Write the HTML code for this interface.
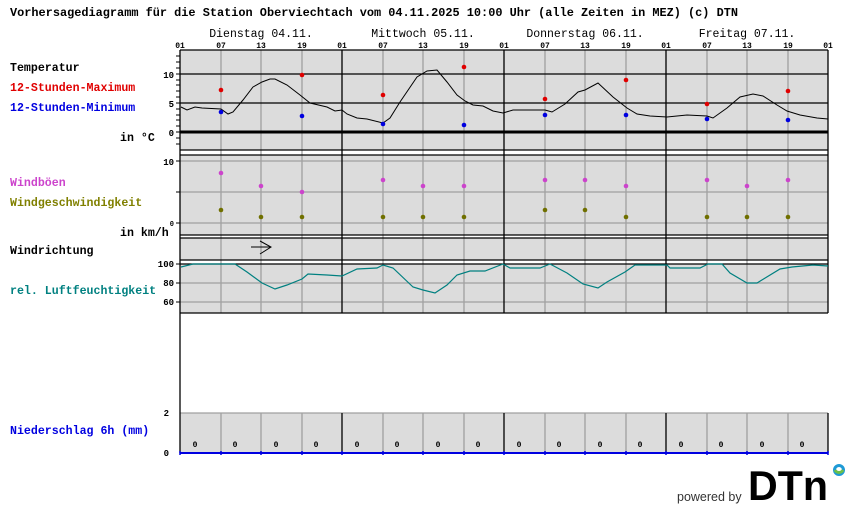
<!DOCTYPE html>
<html><head><meta charset="utf-8"><style>
html,body{margin:0;padding:0;background:#fff;}
svg{display:block;}
text{font-family:"Liberation Mono",monospace;}
.b{font-weight:bold;font-size:11.6px;}
.t{font-size:8px;font-weight:bold;}
</style></head><body>
<svg width="850" height="524" viewBox="0 0 850 524" xmlns="http://www.w3.org/2000/svg">
<text x="10" y="16" class="b" textLength="728" lengthAdjust="spacingAndGlyphs">Vorhersagediagramm für die Station Oberviechtach vom 04.11.2025 10:00 Uhr (alle Zeiten in MEZ)   (c) DTN</text>
<g font-size="11.5" text-anchor="middle">
<text x="261" y="37">Dienstag 04.11.</text>
<text x="423" y="37">Mittwoch 05.11.</text>
<text x="585" y="37">Donnerstag 06.11.</text>
<text x="747" y="37">Freitag 07.11.</text>
</g>
<g class="t" text-anchor="middle">
<text x="180" y="48">01</text><text x="221" y="48">07</text><text x="261" y="48">13</text><text x="302" y="48">19</text>
<text x="342" y="48">01</text><text x="383" y="48">07</text><text x="423" y="48">13</text><text x="464" y="48">19</text>
<text x="504" y="48">01</text><text x="545" y="48">07</text><text x="585" y="48">13</text><text x="626" y="48">19</text>
<text x="666" y="48">01</text><text x="707" y="48">07</text><text x="747" y="48">13</text><text x="788" y="48">19</text>
<text x="828" y="48">01</text>
</g>
<rect x="180" y="50" width="648" height="100" fill="#dcdcdc"/>
<rect x="180" y="155" width="648" height="80" fill="#dcdcdc"/>
<rect x="180" y="238" width="648" height="22" fill="#dcdcdc"/>
<rect x="180" y="264" width="648" height="49" fill="#dcdcdc"/>
<rect x="180" y="413" width="648" height="40" fill="#dcdcdc"/>
<g stroke="#a0a0a0" stroke-width="1.3">
<line x1="180" y1="161" x2="828" y2="161"/><line x1="180" y1="192" x2="828" y2="192"/><line x1="180" y1="223" x2="828" y2="223"/>
<line x1="180" y1="283" x2="828" y2="283"/><line x1="180" y1="302" x2="828" y2="302"/>
<line x1="180" y1="413" x2="828" y2="413"/>
</g>
<g stroke="#a0a0a0" stroke-width="1.3">
<path d="M221 50V313M261 50V313M302 50V313M383 50V313M423 50V313M464 50V313M545 50V313M585 50V313M626 50V313M707 50V313M747 50V313M788 50V313"/>
<path d="M221 413V453M261 413V453M302 413V453M383 413V453M423 413V453M464 413V453M545 413V453M585 413V453M626 413V453M707 413V453M747 413V453M788 413V453"/>
</g>
<g stroke="#000" stroke-width="1.3">
<line x1="180" y1="50" x2="828" y2="50"/>
<line x1="180" y1="74" x2="828" y2="74"/>
<line x1="180" y1="103" x2="828" y2="103"/>
<line x1="180" y1="150" x2="828" y2="150"/>
<line x1="180" y1="155" x2="828" y2="155"/>
<line x1="180" y1="235" x2="828" y2="235"/>
<line x1="180" y1="238" x2="828" y2="238"/>
<line x1="180" y1="260" x2="828" y2="260"/>
<line x1="180" y1="264" x2="828" y2="264"/>
<line x1="180" y1="313" x2="828" y2="313"/>
<path d="M180 50V453M342 50V313M504 50V313M666 50V313M828 50V313M342 413V453M504 413V453M666 413V453M828 413V453"/>
</g>
<line x1="180" y1="132" x2="828" y2="132" stroke="#000" stroke-width="3"/>
<line x1="180" y1="453" x2="828" y2="453" stroke="#0000e0" stroke-width="2"/>
<path d="M180 455V451M221 455V451M261 455V451M302 455V451M342 455V451M383 455V451M423 455V451M464 455V451M504 455V451M545 455V451M585 455V451M626 455V451M666 455V451M707 455V451M747 455V451M788 455V451M828 455V451" stroke="#0000e0" stroke-width="1.5"/>
<path d="M176 56H180M176 62H180M176 68H180M176 74H180M176 80H180M176 85H180M176 91H180M176 97H180M176 103H180M176 109H180M176 115H180M176 120H180M176 126H180M176 132H180M176 138H180M176 144H180M176 161H180M176 192H180M176 223H180M176 264H180M176 283H180M176 302H180" stroke="#000"/>
<g font-size="9" font-weight="bold" text-anchor="end">
<text x="174" y="78">10</text><text x="174" y="107">5</text><text x="174" y="136">0</text>
<text x="174" y="165">10</text><text x="174" y="226" font-size="7">0</text>
<text x="174" y="267">100</text><text x="174" y="286">80</text><text x="174" y="305">60</text>
<text x="169" y="416">2</text><text x="169" y="456">0</text>
</g>
<text x="10" y="71" class="b">Temperatur</text>
<text x="10" y="91" class="b" fill="#e00000">12-Stunden-Maximum</text>
<text x="10" y="111" class="b" fill="#0000e0">12-Stunden-Minimum</text>
<text x="120" y="141" class="b">in °C</text>
<text x="10" y="186" class="b" fill="#cc44cc">Windböen</text>
<text x="10" y="206" class="b" fill="#808000">Windgeschwindigkeit</text>
<text x="120" y="236" class="b">in km/h</text>
<text x="10" y="254" class="b">Windrichtung</text>
<text x="10" y="294" class="b" fill="#008080">rel. Luftfeuchtigkeit</text>
<text x="10" y="434" class="b" fill="#0000e0">Niederschlag 6h (mm)</text>
<polyline fill="none" stroke="#000" stroke-width="1" points="181,107 187,110 195,107 202,108 221,109 228,114 233,112 243,100 253,87 262,82 270,79 275,79 287,85 300,95 310,103 327,107 335,111 342,110 347,114 357,118 367,119 383,123 390,118 400,102 417,77 427,71 437,70 447,82 457,95 465,101 473,105 483,106 493,111 503,113 513,110 545,110 552,112 565,104 578,92 585,90 598,83 613,97 627,108 637,114 650,116 667,117 687,115 707,116 713,118 727,108 740,97 753,94 763,96 777,105 787,111 800,115 817,118 828,119"/>
<polyline fill="none" stroke="#008080" stroke-width="1.2" points="181,267 193,264 220,264 235,264 247,272 262,283 275,289 287,285 302,279 308,274 327,275 342,276 357,269 377,268 383,265 393,268 413,287 423,290 435,293 447,285 457,275 470,271 485,271 503,264 510,268 520,268 540,268 550,264 567,273 583,284 598,288 607,282 625,272 635,265 667,265 670,268 700,268 708,264 722,264 730,273 747,283 757,283 780,269 792,267 813,265 828,266"/>
<g fill="#e00000">
<circle cx="221" cy="90" r="2.3"/><circle cx="302" cy="75" r="2.3"/><circle cx="383" cy="95" r="2.3"/><circle cx="464" cy="67" r="2.3"/><circle cx="545" cy="99" r="2.3"/><circle cx="626" cy="80" r="2.3"/><circle cx="707" cy="104" r="2.3"/><circle cx="788" cy="91" r="2.3"/>
</g>
<g fill="#0000e0">
<circle cx="221" cy="112" r="2.3"/><circle cx="302" cy="116" r="2.3"/><circle cx="383" cy="124" r="2.3"/><circle cx="464" cy="125" r="2.3"/><circle cx="545" cy="115" r="2.3"/><circle cx="626" cy="115" r="2.3"/><circle cx="707" cy="119" r="2.3"/><circle cx="788" cy="120" r="2.3"/>
</g>
<g fill="#cc44cc">
<circle cx="221" cy="173" r="2.3"/><circle cx="261" cy="186" r="2.3"/><circle cx="302" cy="192" r="2.3"/><circle cx="383" cy="180" r="2.3"/><circle cx="423" cy="186" r="2.3"/><circle cx="464" cy="186" r="2.3"/><circle cx="545" cy="180" r="2.3"/><circle cx="585" cy="180" r="2.3"/><circle cx="626" cy="186" r="2.3"/><circle cx="707" cy="180" r="2.3"/><circle cx="747" cy="186" r="2.3"/><circle cx="788" cy="180" r="2.3"/>
</g>
<g fill="#707000">
<circle cx="221" cy="210" r="2.3"/><circle cx="261" cy="217" r="2.3"/><circle cx="302" cy="217" r="2.3"/><circle cx="383" cy="217" r="2.3"/><circle cx="423" cy="217" r="2.3"/><circle cx="464" cy="217" r="2.3"/><circle cx="545" cy="210" r="2.3"/><circle cx="585" cy="210" r="2.3"/><circle cx="626" cy="217" r="2.3"/><circle cx="707" cy="217" r="2.3"/><circle cx="747" cy="217" r="2.3"/><circle cx="788" cy="217" r="2.3"/>
</g>
<path d="M251 247H271M260 241L271 247L260 254" fill="none" stroke="#000" stroke-width="1"/>
<g font-size="8" font-weight="bold" text-anchor="middle">
<text x="195" y="447">0</text><text x="235" y="447">0</text><text x="276" y="447">0</text><text x="316" y="447">0</text>
<text x="357" y="447">0</text><text x="397" y="447">0</text><text x="438" y="447">0</text><text x="478" y="447">0</text>
<text x="519" y="447">0</text><text x="559" y="447">0</text><text x="600" y="447">0</text><text x="640" y="447">0</text>
<text x="681" y="447">0</text><text x="721" y="447">0</text><text x="762" y="447">0</text><text x="802" y="447">0</text>
</g>
<text x="677" y="501" style="font-family:'Liberation Sans',sans-serif;font-size:12.5px" fill="#333">powered by</text>
<text x="748" y="500" style="font-family:'Liberation Sans',sans-serif;font-size:42px;font-weight:bold" fill="#000" textLength="80" lengthAdjust="spacingAndGlyphs">DTn</text>
<circle cx="839" cy="470" r="4.5" fill="none" stroke="#1e9ad6" stroke-width="3"/>
<path d="M835 470A4.5 4.5 0 0 0 843 470" fill="none" stroke="#6cc04a" stroke-width="3"/>
</svg>
</body></html>
